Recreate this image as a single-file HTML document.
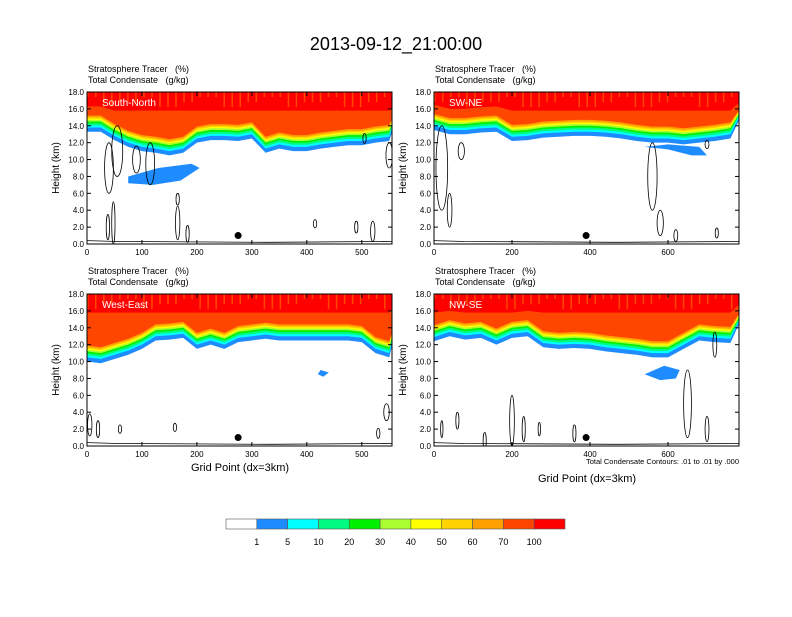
<!DOCTYPE html>
<html><head><meta charset="utf-8"><style>
body{margin:0;background:#fff;font-family:"Liberation Sans",sans-serif}
svg text{font-family:"Liberation Sans",sans-serif;white-space:pre}
</style></head><body>
<svg id="fig" width="792" height="612" viewBox="0 0 792 612" xmlns="http://www.w3.org/2000/svg">
<text x="396" y="50" font-size="18" text-anchor="middle">2013-09-12_21:00:00</text>
</svg>
<script>
const colors=["#ffffff","#1e8cff","#00ffff","#00fa82","#00f000","#aaff32","#ffff00","#ffd200","#ffa000","#ff4600","#ff0000"];
const cbLabels=["1","5","10","20","30","40","50","60","70","100"];
const bandOffsets=[0,0.5,0.75,1.0,1.2,1.4,1.55,1.7,1.9];
const baseTL=[13.3,13.3,12.3,11.5,11,10.8,10.5,10.8,12,12.3,12.3,12.2,12.5,10.8,11.3,11,11,11.3,11.5,11.7,11.7,12,12.2];
const baseTR=[13.5,13,13,13.2,13.3,12.2,12.3,12.6,12.7,12.8,12.8,12.7,12.5,12.2,12,12,11.8,12,12.2,12.5];
const baseBL=[10,9.8,10.3,10.8,11.5,12.5,12.6,12.8,11.5,12,11.5,12.3,12.5,12.7,12.5,12.5,12.5,12.5,12.5,12.5,12.3,11,10.5];
const baseBR=[12.4,13,12.6,12.8,12,12.8,13,11.7,11.5,11.6,11.5,11.2,11,10.8,10.5,10.5,11.5,12.5,12.3,12.2];
const blobsTL=[[[75,7.2],[120,7],[170,7.5],[205,9],[190,9.5],[130,9],[75,8]]];
const blobsTR=[[[540,11.5],[600,11.2],[660,10.5],[700,10.5],[680,11.5],[600,11.8]]];
const blobsBL=[[[420,8.5],[430,8.2],[440,8.7],[425,9]]];
const blobsBR=[[[540,8.5],[580,7.8],[620,8],[630,9],[590,9.5]]];
const contTL=[[40,9,8,3],[55,11,10,3],[90,10,7,1.6],[115,9.5,8,2.5],[38,2,3,1.5],[48,2.5,3,2.5],[165,2.5,4,2],[165,5.3,3,0.7],[183,1.2,3,1],[415,2.4,3,0.5],[490,2,3,0.7],[520,1.5,4,1.2],[505,12.5,3,0.6],[550,10.5,6,1.5]];
const contTR=[[20,9,15,5],[70,11,8,1],[40,4,6,2],[560,8,12,4],[580,2.5,8,1.5],[620,1,5,0.7],[700,11.8,5,0.5],[725,1.3,4,0.6]];
const contBL=[[5,2.5,4,1.3],[20,2,3,1],[60,2,3,0.5],[160,2.2,3,0.5],[545,4,5,1],[530,1.5,3,0.6]];
const contBR=[[130,0.6,4,1],[200,3,6,3],[230,2,4,1.5],[270,2,3,0.8],[360,1.5,4,1],[650,5,10,4],[700,2,5,1.5],[720,12,5,1.5],[60,3,4,1],[20,2,3,1]];
const dotX=[275,390,275,390];
const panelNames=["South-North","SW-NE","West-East","NW-SE"];
const svg=document.getElementById('fig');
const NS="http://www.w3.org/2000/svg";
function mk(tag,attrs,parent){const e=document.createElementNS(NS,tag);for(const k in attrs)e.setAttribute(k,attrs[k]);(parent||svg).appendChild(e);return e;}
function panel(idx,px,py,xmax,step,base,blobs,conts,ticks){
  const W=305,H=152;
  const g=mk('g',{});
  
  
  const X=v=>px+v/xmax*W, Y=v=>py+H-v/18*H;
  const clip=mk('clipPath',{id:'c'+idx},g);mk('rect',{x:px,y:py,width:W,height:H},clip);
  const cg=mk('g',{'clip-path':'url(#c'+idx+')'},g);
  blobs.forEach(bl=>{const p=mk('polygon',{points:bl.map(q=>X(q[0])+','+Y(q[1])).join(' '),fill:colors[1]},cg);
    });
  for(let b=0;b<=bandOffsets.length;b++){
    let pts=[];
    base.forEach((v,i)=>{let h;
      if(b<9)h=v+bandOffsets[b];
      else h=Math.max(v+3.0,15.8);
      pts.push(X(i*step)+','+Y(h));});
    pts.push(X(xmax+step)+','+Y(18.5));pts.unshift(X(0)+','+Y(18.5));
    const p=mk('polygon',{points:pts.join(' '),fill:colors[b+1]},cg);
    
    
  }
  for(let k=0;k<xmax;k+=xmax/38){mk('rect',{x:X(k),y:Y(18),width:1.5,height:H*((idx+Math.round(k))%3+1)/30,fill:colors[9]},cg);}
  conts.forEach(c=>{const e=mk('ellipse',{cx:X(c[0]),cy:Y(c[1]),rx:c[2]/xmax*W,ry:c[3]/18*H,fill:'none',stroke:'#000','stroke-width':0.8},cg);
    });
  mk('polyline',{points:`${X(0)},${Y(0.4)} ${X(xmax*0.1)},${Y(0.3)} ${X(xmax*0.6)},${Y(0.2)} ${X(xmax)},${Y(0.3)}`,fill:'none',stroke:'#000','stroke-width':0.8},cg);
  const d=mk('circle',{cx:X(dotX[idx]),cy:Y(1),r:3.5,fill:'#000'},g);
  
  mk('rect',{x:px,y:py,width:W,height:H,fill:'none',stroke:'#000','stroke-width':1},g);
  for(let k=0;k<=18;k+=2){const y=Y(k);mk('line',{x1:px,x2:px+4,y1:y,y2:y,stroke:'#000'},g);mk('line',{x1:px+W,x2:px+W-4,y1:y,y2:y,stroke:'#000'},g);
    const t=mk('text',{x:px-3,y:y+3,'font-size':8,'text-anchor':'end'},g);t.textContent=k.toFixed(1);
    }
  ticks.forEach(k=>{const x=X(k);mk('line',{x1:x,x2:x,y1:py+H,y2:py+H-4,stroke:'#000'},g);mk('line',{x1:x,x2:x,y1:py,y2:py+4,stroke:'#000'},g);
    const t=mk('text',{x:x,y:py+H+11,'font-size':8,'text-anchor':'middle'},g);t.textContent=k;
    });
  const yl=mk('text',{transform:`translate(${px-28},${py+H/2}) rotate(-90)`,'font-size':10,'text-anchor':'middle'},g);yl.textContent='Height (km)';
  
  const nm=mk('text',{x:px+15,y:py+14,'font-size':10,fill:'#fff'},g);nm.textContent=panelNames[idx];
  
  const l1=mk('text',{x:px+1,y:py-20,'font-size':9},g);l1.textContent='Stratosphere Tracer   (%)';
  
  const l2=mk('text',{x:px+1,y:py-9,'font-size':9},g);l2.textContent='Total Condensate   (g/kg)';
  
}
panel(0,87,92,555,25,baseTL,blobsTL,contTL,[0,100,200,300,400,500]);
panel(1,434,92,782,40,baseTR,blobsTR,contTR,[0,200,400,600]);
panel(2,87,294,555,25,baseBL,blobsBL,contBL,[0,100,200,300,400,500]);
panel(3,434,294,782,40,baseBR,blobsBR,contBR,[0,200,400,600]);
let t=mk('text',{x:240,y:471,'font-size':11,'text-anchor':'middle'});t.textContent='Grid Point (dx=3km)';

t=mk('text',{x:587,y:482,'font-size':11,'text-anchor':'middle'});t.textContent='Grid Point (dx=3km)';

t=mk('text',{x:739,y:464,'font-size':7.5,'text-anchor':'end'});t.textContent='Total Condensate Contours: .01 to .01 by .000';

const cbx=226,cbw=339/11;
colors.forEach((c,i)=>{const r=mk('rect',{x:cbx+i*cbw,y:519,width:cbw,height:10,fill:c,stroke:'#555','stroke-width':0.6});
  });
cbLabels.forEach((l,i)=>{const tt=mk('text',{x:cbx+(i+1)*cbw,y:545,'font-size':9,'text-anchor':'middle'});tt.textContent=l;
  });
</script>
</body></html>
